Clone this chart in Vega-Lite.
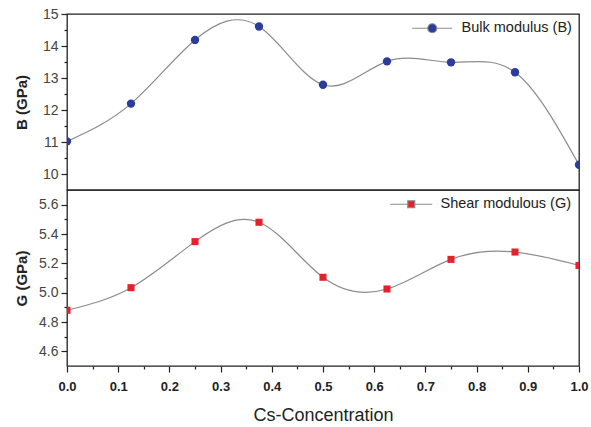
{
  "$schema": "https://vega.github.io/schema/vega-lite/v6.json",
  "padding": {"left": 13, "top": 6, "right": 2, "bottom": 2},
  "background": "white",
  "spacing": 0,
  "bounds": "flush",
  "config": {
    "font": "Liberation Sans",
    "view": {"stroke": "#222222", "strokeWidth": 1.3},
    "axis": {"domain": false, "grid": false, "tickColor": "#222222", "tickWidth": 1.2, "labelFontSize": 14, "labelColor": "#444444", "titleColor": "#222222", "labelOverlap": false, "labelFlush": false},
    "legend": {"orient": "top-right", "offset": 7, "padding": 0, "labelFontSize": 14.5, "labelColor": "#222222", "symbolStrokeColor": "#8c8c8c", "symbolStrokeWidth": 1.2, "symbolSize": 100, "labelOffset": 22}
  },
  "datasets": {
    "moduli": [
      {"x": 0.0, "B": 11.02, "G": 4.88},
      {"x": 0.125, "B": 12.2, "G": 5.034},
      {"x": 0.25, "B": 14.19, "G": 5.348},
      {"x": 0.375, "B": 14.61, "G": 5.48},
      {"x": 0.5, "B": 12.79, "G": 5.105},
      {"x": 0.625, "B": 13.52, "G": 5.025},
      {"x": 0.75, "B": 13.49, "G": 5.227},
      {"x": 0.875, "B": 13.18, "G": 5.277},
      {"x": 1.0, "B": 10.29, "G": 5.186}
    ]
  },
  "vconcat": [
    {
      "width": 512,
      "height": 176,
      "data": {"name": "moduli"},
      "encoding": {
        "x": {"field": "x", "type": "quantitative", "scale": {"domain": [0, 1], "nice": false}, "axis": null},
        "y": {"field": "B", "type": "quantitative", "scale": {"domain": [9.5, 15], "nice": false, "zero": false},
          "axis": {"title": "B (GPa)", "values": [10, 10.5, 11, 11.5, 12, 12.5, 13, 13.5, 14, 14.5, 15],
            "labelExpr": "round(datum.value*2) % 2 === 1 ? '' : format(datum.value, 'd')",
            "tickSize": {"condition": {"test": "round(datum.value*2) % 2 === 1", "value": 3}, "value": 6},
            "labelPadding": 3, "titleFontSize": 15, "titleFontWeight": "bold", "titleX": -38}}
      },
      "layer": [
        {"mark": {"type": "line", "interpolate": "natural", "color": "#8c8c8c", "strokeWidth": 1.2, "clip": true}},
        {"mark": {"type": "point", "filled": true, "shape": "circle", "size": 70, "opacity": 1, "clip": true},
          "encoding": {"color": {"datum": "Bulk modulus (B)", "type": "nominal", "scale": {"range": ["#2b3c9e"]},
            "legend": {"title": null, "symbolType": "M-4,0H-0.9M0.9,0H4M0.9,0A0.9,0.9,0,1,1,-0.9,0A0.9,0.9,0,1,1,0.9,0Z"}}}}
      ]
    },
    {
      "width": 512,
      "height": 176,
      "data": {"name": "moduli"},
      "encoding": {
        "x": {"field": "x", "type": "quantitative", "scale": {"domain": [0, 1], "nice": false},
          "axis": {"title": "Cs-Concentration", "values": [0, 0.05, 0.1, 0.15, 0.2, 0.25, 0.3, 0.35, 0.4, 0.45, 0.5, 0.55, 0.6, 0.65, 0.7, 0.75, 0.8, 0.85, 0.9, 0.95, 1],
            "labelExpr": "round(datum.value*20) % 2 === 1 ? '' : format(datum.value, '.1f')",
            "tickSize": {"condition": {"test": "round(datum.value*20) % 2 === 1", "value": 3}, "value": 6},
            "labelFontWeight": "bold", "labelColor": "#222222", "labelFontSize": 13, "labelPadding": 8,
            "titleFontSize": 18, "titleFontWeight": "normal", "titlePadding": 13}},
        "y": {"field": "G", "type": "quantitative", "scale": {"domain": [4.5, 5.7], "nice": false, "zero": false},
          "axis": {"title": "G (GPa)", "values": [4.6, 4.7, 4.8, 4.9, 5.0, 5.1, 5.2, 5.3, 5.4, 5.5, 5.6],
            "labelExpr": "round(datum.value*10) % 2 === 1 ? '' : format(datum.value, '.1f')",
            "tickSize": {"condition": {"test": "round(datum.value*10) % 2 === 1", "value": 3}, "value": 6},
            "labelPadding": 3, "titleFontSize": 15, "titleFontWeight": "bold", "titleX": -38}}
      },
      "layer": [
        {"mark": {"type": "line", "interpolate": "natural", "color": "#8c8c8c", "strokeWidth": 1.2, "clip": true}},
        {"mark": {"type": "point", "filled": true, "shape": "square", "size": 50, "opacity": 1, "clip": true},
          "encoding": {"color": {"datum": "Shear modulous (G)", "type": "nominal", "scale": {"range": ["#e3222b"]},
            "legend": {"title": null, "symbolType": "M-4.2,0H-0.7M0.7,0H4.2M-0.7,-0.7H0.7V0.7H-0.7Z"}}}}
      ]
    }
  ],
  "resolve": {"scale": {"color": "independent"}}
}
